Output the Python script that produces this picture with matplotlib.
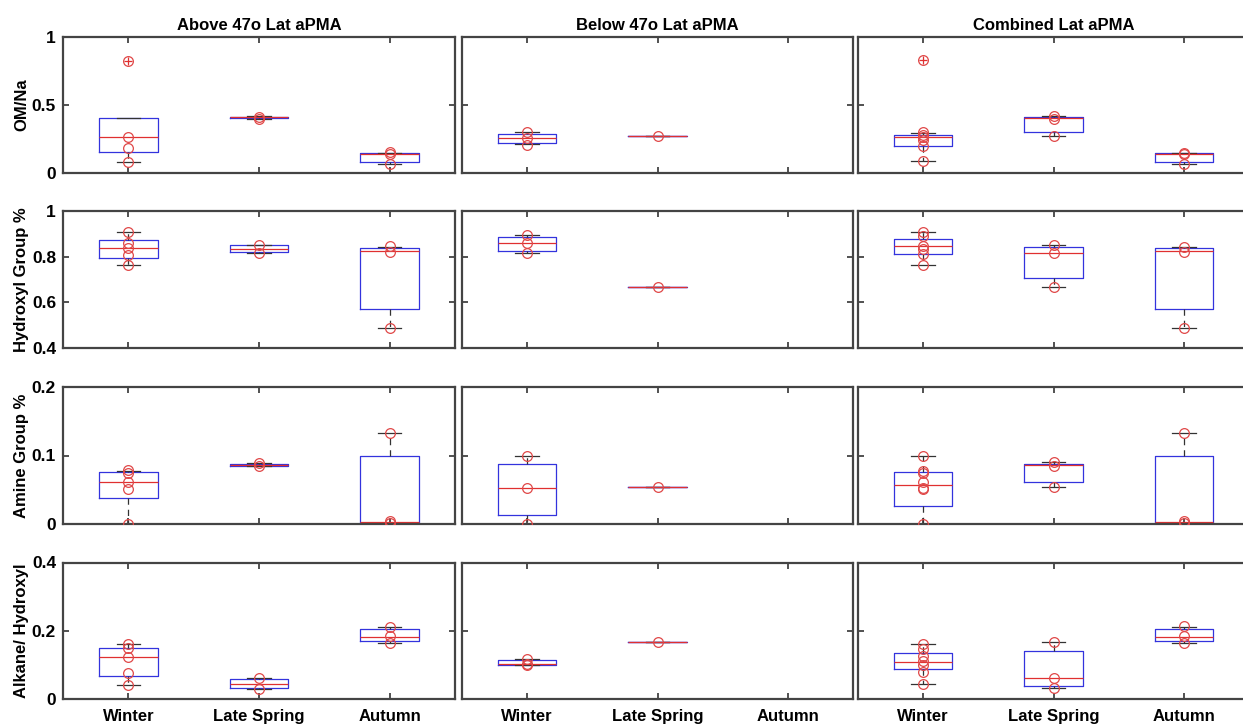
import numpy as np
import matplotlib
matplotlib.use("Agg")
import matplotlib.pyplot as plt

plt.rcParams['font.family'] = ['Liberation Sans', 'DejaVu Sans']

seasons = ['Winter', 'Late Spring', 'Autumn']
col_titles = ['Above 47o Lat aPMA', 'Below 47o Lat aPMA', 'Combined Lat aPMA']
row_labels = ['OM/Na', 'Hydroxyl Group %', 'Amine Group %', 'Alkane/ Hydroxyl']
row_ylims = [(0, 1), (0.4, 1), (0, 0.2), (0, 0.4)]
row_yticks = [[0, 0.5, 1], [0.4, 0.6, 0.8, 1], [0, 0.1, 0.2], [0, 0.2, 0.4]]
row_yticklabels = [['0', '0.5', '1'], ['0.4', '0.6', '0.8', '1'],
                   ['0', '0.1', '0.2'], ['0', '0.2', '0.4']]

# box stats per panel: one tuple (whislo, q1, med, q3, whishi) per season, None = no data
# rows: OM/Na, Hydroxyl, Amine, Alkane/Hydroxyl ; cols: above, below, combined
om_above = [(0.083, 0.158, 0.267, 0.407, 0.407), (0.400, 0.405, 0.410, 0.415, 0.418), (0.066, 0.082, 0.140, 0.145, 0.150)]
om_below = [(0.210, 0.220, 0.255, 0.287, 0.298), (0.273, 0.273, 0.273, 0.273, 0.273), None]
om_comb = [(0.086, 0.197, 0.265, 0.282, 0.296), (0.270, 0.300, 0.405, 0.412, 0.418), (0.066, 0.082, 0.140, 0.145, 0.150)]

hy_above = [(0.763, 0.795, 0.837, 0.874, 0.910), (0.819, 0.820, 0.835, 0.850, 0.853), (0.485, 0.570, 0.826, 0.840, 0.845)]
hy_below = [(0.817, 0.826, 0.860, 0.888, 0.896), (0.666, 0.666, 0.666, 0.666, 0.666), None]
hy_comb = [(0.765, 0.812, 0.848, 0.880, 0.910), (0.666, 0.705, 0.819, 0.845, 0.851), (0.485, 0.570, 0.826, 0.840, 0.845)]

am_above = [(0.000, 0.0385, 0.061, 0.0756, 0.0776), (0.084, 0.085, 0.0865, 0.088, 0.089), (0.001, 0.001, 0.003, 0.100, 0.133)]
am_below = [(0.000, 0.013, 0.053, 0.088, 0.100), (0.054, 0.054, 0.054, 0.054, 0.054), None]
am_comb = [(0.000, 0.026, 0.057, 0.076, 0.099), (0.054, 0.0615, 0.086, 0.088, 0.090), (0.001, 0.001, 0.003, 0.100, 0.133)]

al_above = [(0.042, 0.067, 0.124, 0.149, 0.162), (0.030, 0.032, 0.045, 0.060, 0.061), (0.165, 0.170, 0.183, 0.204, 0.210)]
al_below = [(0.100, 0.101, 0.104, 0.113, 0.117), (0.168, 0.168, 0.168, 0.168, 0.168), None]
al_comb = [(0.045, 0.088, 0.108, 0.135, 0.162), (0.032, 0.039, 0.062, 0.140, 0.168), (0.165, 0.170, 0.183, 0.204, 0.210)]

# outliers ('+') per panel and season
om_above_fl = [[0.823], [], []]
om_comb_fl = [[0.833], [], []]
no_fl = [[], [], []]

# individual data points (red circles)
om_above_pts = [[0.823, 0.267, 0.187, 0.083], [0.415, 0.400], [0.153, 0.140, 0.066]]
om_below_pts = [[0.304, 0.256, 0.207], [0.273], []]
om_comb_pts = [[0.833, 0.301, 0.277, 0.265, 0.240, 0.196, 0.086], [0.420, 0.400, 0.270], [0.150, 0.137, 0.069]]

hy_above_pts = [[0.910, 0.863, 0.837, 0.807, 0.763], [0.853, 0.819], [0.849, 0.822, 0.485]]
hy_below_pts = [[0.898, 0.860, 0.816], [0.666], []]
hy_comb_pts = [[0.910, 0.892, 0.848, 0.834, 0.812, 0.765], [0.851, 0.819, 0.666], [0.844, 0.823, 0.488]]

am_above_pts = [[0.079, 0.075, 0.061, 0.051, 0.000], [0.089, 0.084], [0.133, 0.004, 0.002]]
am_below_pts = [[0.100, 0.053, 0.000], [0.054], []]
am_comb_pts = [[0.099, 0.077, 0.0746, 0.061, 0.0527, 0.0507, 0.000], [0.090, 0.085, 0.054], [0.133, 0.004, 0.002]]

al_above_pts = [[0.162, 0.149, 0.124, 0.075, 0.042], [0.061, 0.030], [0.212, 0.184, 0.164]]
al_below_pts = [[0.118, 0.104, 0.101], [0.168], []]
al_comb_pts = [[0.162, 0.147, 0.125, 0.111, 0.101, 0.078, 0.045], [0.168, 0.062, 0.032], [0.214, 0.184, 0.165]]

stats_grid = [[om_above, om_below, om_comb],
              [hy_above, hy_below, hy_comb],
              [am_above, am_below, am_comb],
              [al_above, al_below, al_comb]]
fliers_grid = [[om_above_fl, no_fl, om_comb_fl],
               [no_fl, no_fl, no_fl],
               [no_fl, no_fl, no_fl],
               [no_fl, no_fl, no_fl]]
points_grid = [[om_above_pts, om_below_pts, om_comb_pts],
               [hy_above_pts, hy_below_pts, hy_comb_pts],
               [am_above_pts, am_below_pts, am_comb_pts],
               [al_above_pts, al_below_pts, al_comb_pts]]

W, H = 1243, 727
fig = plt.figure(figsize=(W / 100, H / 100), dpi=100)

col_x = [(63, 455), (462, 853), (858, 1249)]
row_y = [(37, 173), (211.5, 347.5), (387, 524), (562.5, 699)]

for r in range(4):
    for c in range(3):
        x0, x1 = col_x[c]
        y0, y1 = row_y[r]
        ax = fig.add_axes([x0 / W, 1 - y1 / H, (x1 - x0) / W, (y1 - y0) / H])

        stats = []
        pos = []
        for i, s in enumerate(stats_grid[r][c]):
            if s is None:
                continue
            lo, q1, med, q3, hi = s
            stats.append(dict(whislo=lo, q1=q1, med=med, q3=q3, whishi=hi,
                              fliers=fliers_grid[r][c][i]))
            pos.append(i + 1)
        ax.bxp(stats, positions=pos, widths=0.45, capwidths=0.18,
               boxprops=dict(color='#3333dd', linewidth=0.9),
               medianprops=dict(color='#e03030', linewidth=0.9),
               whiskerprops=dict(color='#333333', linewidth=0.9, linestyle=(0, (5, 4))),
               capprops=dict(color='#333333', linewidth=0.9),
               flierprops=dict(marker='+', markeredgecolor='#e03030', markersize=6,
                               markeredgewidth=0.9))

        for i, pts in enumerate(points_grid[r][c]):
            if len(pts) == 0:
                continue
            ax.plot([i + 1] * len(pts), pts, 'o', mfc='none', mec='#e04848',
                    ms=7, mew=0.9, zorder=5)

        ax.set_xlim(0.5, 3.5)
        ax.set_ylim(*row_ylims[r])
        ax.set_xticks([1, 2, 3])
        ax.set_yticks(row_yticks[r])
        ax.tick_params(direction='in', top=True, right=True, length=4,
                       width=1.2, color='#333333', labelsize=12.5)
        ax.tick_params(axis='y', pad=5)
        ax.tick_params(axis='x', pad=7)
        for sp in ax.spines.values():
            sp.set_color('#444444')
            sp.set_linewidth(1.6)

        if c == 0:
            ax.set_yticklabels(row_yticklabels[r], fontweight='bold')
            ax.set_ylabel(row_labels[r], fontsize=12, fontweight='bold')
            ax.yaxis.set_label_coords((29 - x0) / (x1 - x0), 0.5)
        else:
            ax.set_yticklabels([])
        if r == 3:
            ax.set_xticklabels(seasons, fontweight='bold', fontsize=12)
        else:
            ax.set_xticklabels([])
        if r == 0:
            ax.set_title(col_titles[c], fontsize=12, fontweight='bold', pad=5)

fig.savefig('out.png', dpi=100)
